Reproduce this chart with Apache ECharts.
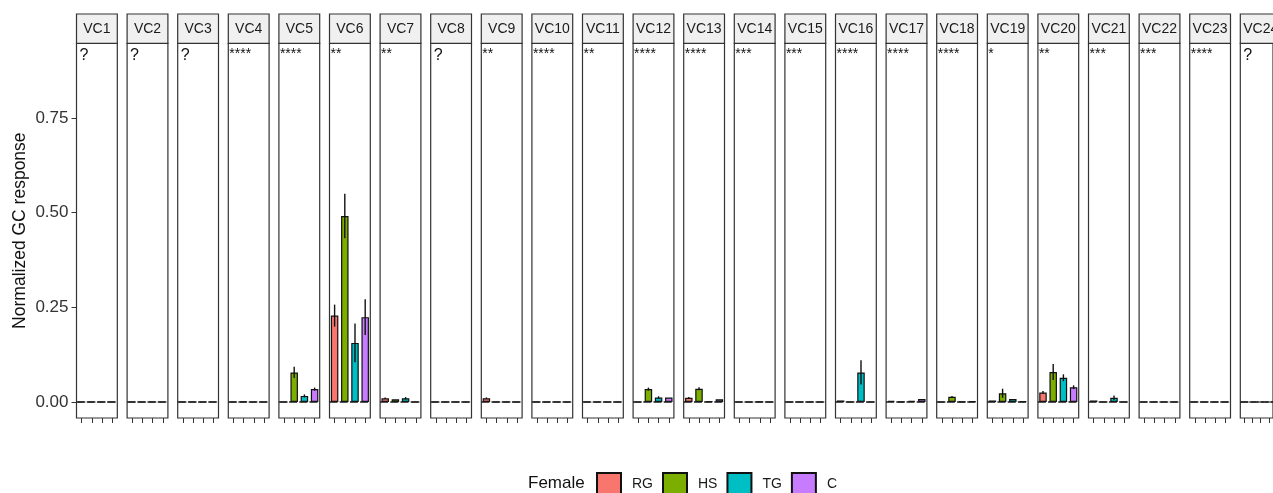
<!DOCTYPE html>
<html>
<head>
<meta charset="utf-8">
<script src="https://cdn.jsdelivr.net/npm/echarts@6/dist/echarts.min.js"></script>
<style>
html,body{margin:0;padding:0;background:#fff;}
#chart{width:1273px;height:493px;}
</style>
</head>
<body>
<div id="chart"></div>
<script>
// ---------------- data ----------------
const facets = ['VC1','VC2','VC3','VC4','VC5','VC6','VC7','VC8','VC9','VC10','VC11','VC12',
                'VC13','VC14','VC15','VC16','VC17','VC18','VC19','VC20','VC21','VC22','VC23','VC24'];
const groups = ['RG','HS','TG','C'];
const signif = ['?','?','?','****','****','**','**','?','**','****','**','****',
                '****','***','***','****','****','****','*','**','***','***','****','?'];
const RG_mean = [0,0,0,0,0,0.228,0.010,0,0.010,0,0,0,0.011,0,0,0.004,0.003,0,0.004,0.025,0.004,0,0,0];
const HS_mean = [0,0,0,0.001,0.078,0.491,0.007,0,0,0,0,0.034,0.035,0,0,0,0.001,0.014,0.023,0.079,0,0,0,0];
const TG_mean = [0,0,0,0,0.016,0.156,0.010,0,0,0,0,0.012,0.002,0.001,0,0.078,0.003,0.001,0.008,0.064,0.011,0,0,0];
const C_mean  = [0,0,0,0,0.034,0.224,0,0,0,0,0,0.012,0.007,0,0,0,0.008,0.002,0.002,0.039,0,0,0,0];
const RG_se = [0,0,0,0,0,0.029,0.002,0,0.002,0,0,0,0.002,0,0,0,0,0,0,0.004,0,0,0,0];
const HS_se = [0,0,0,0,0.015,0.059,0,0,0,0,0,0.004,0.004,0,0,0,0,0.002,0.012,0.021,0,0,0,0];
const TG_se = [0,0,0,0,0.004,0.051,0.003,0,0,0,0,0.003,0,0,0,0.032,0,0,0,0.009,0.006,0,0,0];
const C_se  = [0,0,0,0,0.004,0.047,0,0,0,0,0,0,0,0,0,0,0,0,0,0.005,0,0,0,0];
const yTicks = [0, 0.25, 0.5, 0.75];
const yTitle = 'Normalized GC response';
const legendTitle = 'Female';

const means = [RG_mean, HS_mean, TG_mean, C_mean];
const ses = [RG_se, HS_se, TG_se, C_se];
const colors = ['#F8766D','#7CAE00','#00BFC4','#C77CFF'];

// ---------------- layout ----------------
const P0 = 76.5, STEP = 50.6, PW = 40.8, PT = 43.3, PH = 374.7;
const STRIP_T = 14, STRIP_H = 29.3;
const Y_MIN = -0.0423, Y_MAX = 0.947;
const FONT = 'Liberation Sans, Arial, Helvetica, sans-serif';

const grids = [], xAxes = [], yAxes = [], series = [], graphics = [];

facets.forEach((f, i) => {
  const left = P0 + i * STEP;
  grids.push({left: left, top: PT, width: PW, height: PH, show: true,
    backgroundColor: '#fff', borderColor: '#333', borderWidth: 1.2, containLabel: false});
  xAxes.push({type: 'category', gridIndex: i, data: groups, boundaryGap: true, position: 'bottom',
    axisLine: {show: false, onZero: false},
    axisTick: {show: true, alignWithLabel: true, interval: 0, length: 5, lineStyle: {color: '#333', width: 1}},
    axisLabel: {show: false, interval: 0}, splitLine: {show: false}});
  yAxes.push({type: 'value', gridIndex: i, min: Y_MIN, max: Y_MAX,
    axisLine: {show: false, onZero: false}, splitLine: {show: false},
    axisTick: {show: i === 0, length: 5, customValues: yTicks, lineStyle: {color: '#333', width: 1}},
    axisLabel: {show: i === 0, customValues: yTicks, fontSize: 17, color: '#333', fontFamily: FONT,
      margin: 8, formatter: v => v.toFixed(2)}});

  groups.forEach((g, k) => {
    const d = groups.map((_, j) => j === k ? means[k][i] : '-');
    const s = {type: 'bar', name: g, xAxisIndex: i, yAxisIndex: i, data: d,
      barWidth: 7.5, barGap: '-100%', silent: true, animation: false,
      itemStyle: {color: colors[k], borderColor: '#111', borderWidth: 1.2}};
    if (k === 0) {
      s.markLine = {silent: true, symbol: ['none','none'], label: {show: false},
        lineStyle: {type: [8, 2.2], color: '#1a1a1a', width: 1.5}, data: [{yAxis: 0}]};
    }
    series.push(s);
  });

  const errData = [];
  groups.forEach((g, k) => {
    if (ses[k][i] > 0) errData.push([k, means[k][i] - ses[k][i], means[k][i] + ses[k][i]]);
  });
  series.push({type: 'custom', xAxisIndex: i, yAxisIndex: i, data: errData, silent: true,
    animation: false, z: 5,
    renderItem: (params, api) => {
      const lo = api.coord([api.value(0), api.value(1)]);
      const hi = api.coord([api.value(0), api.value(2)]);
      return {type: 'line', shape: {x1: lo[0], y1: lo[1], x2: hi[0], y2: hi[1]},
        style: {stroke: '#111', lineWidth: 1.4}};
    }});

  // strip
  graphics.push({type: 'rect', shape: {x: left, y: STRIP_T, width: PW, height: STRIP_H},
    style: {fill: '#f0f0f0', stroke: '#333', lineWidth: 1.2}, silent: true});
  graphics.push({type: 'text', x: left + PW / 2, y: STRIP_T + STRIP_H / 2,
    style: {text: f, fontSize: 14, fill: '#1a1a1a', fontFamily: FONT, align: 'center', verticalAlign: 'middle'},
    silent: true});
  // significance label
  const isQ = signif[i] === '?';
  graphics.push({type: 'text', x: left + (isQ ? 3 : 1), y: isQ ? 48 : 47,
    style: {text: signif[i], fontSize: isQ ? 16 : 14, fill: '#111', fontFamily: FONT,
      align: 'left', verticalAlign: 'top'}, silent: true, z: 10});
});

// y axis title
graphics.push({type: 'text', x: 20, y: PT + PH / 2, rotation: Math.PI / 2,
  style: {text: yTitle, fontSize: 17.5, fill: '#111', fontFamily: FONT, align: 'center', verticalAlign: 'middle'},
  silent: true});
// legend title
graphics.push({type: 'text', x: 528, y: 483,
  style: {text: legendTitle, fontSize: 17, fill: '#111', fontFamily: FONT, align: 'left', verticalAlign: 'middle'},
  silent: true});

const chart = echarts.init(document.getElementById('chart'), null, {renderer: 'canvas'});
chart.setOption({
  backgroundColor: '#fff',
  animation: false,
  textStyle: {fontFamily: FONT},
  grid: grids,
  xAxis: xAxes,
  yAxis: yAxes,
  legend: {data: groups, left: 591, top: 467, orient: 'horizontal', icon: 'rect',
    itemWidth: 24, itemHeight: 22, itemGap: 9,
    textStyle: {fontSize: 14, color: '#1a1a1a', fontFamily: FONT, padding: [0, 0, 0, 6]},
    selectedMode: false},
  series: series,
  graphic: graphics
});
</script>
</body>
</html>
